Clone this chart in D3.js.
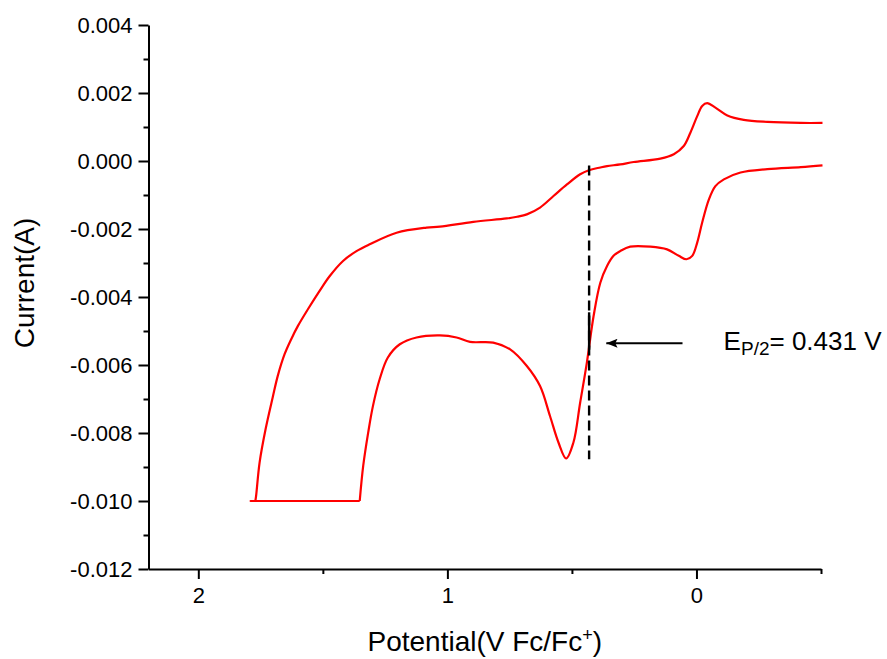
<!DOCTYPE html>
<html>
<head>
<meta charset="utf-8">
<script src="https://cdn.jsdelivr.net/npm/d3@7"></script>
<style>
  body { margin: 0; background: #fff; }
  svg text { font-family: "Liberation Sans", Arial, sans-serif; fill: #000; }
</style>
</head>
<body>
<svg id="chart"></svg>
<script>
// Cyclic voltammogram, potential in V vs Fc/Fc+, current in mA (converted to A below)
// forward scan: from -0.5 V out to the anodic limit (upper branch)
const forwardScan = [
  [-0.506, 1.12], [-0.419, 1.12], [-0.285, 1.15], [-0.190, 1.21], [-0.124, 1.34],
  [-0.076, 1.57], [-0.043, 1.70], [-0.023, 1.62], [-0.003, 1.32], [0.024, 0.84],
  [0.051, 0.44], [0.091, 0.20], [0.145, 0.07], [0.252, -0.03], [0.306, -0.10],
  [0.359, -0.15], [0.386, -0.19], [0.432, -0.27], [0.467, -0.39], [0.520, -0.69],
  [0.574, -1.03], [0.628, -1.37], [0.681, -1.57], [0.720, -1.64], [0.762, -1.69],
  [0.896, -1.79], [1.030, -1.93], [1.084, -1.96], [1.204, -2.11], [1.312, -2.45],
  [1.365, -2.65], [1.419, -2.94], [1.473, -3.39], [1.513, -3.82], [1.560, -4.36],
  [1.600, -4.85], [1.627, -5.24], [1.654, -5.69], [1.681, -6.32], [1.701, -6.94],
  [1.730, -7.89], [1.754, -8.87], [1.768, -9.85], [1.771, -10.0]
];
// current limit of the potentiostat (flat part at -10 mA)
const clippedScan = [[1.771, -10.0], [1.790, -10.0], [1.352, -10.0]];
// reverse scan back to -0.5 V (lower branch)
const reverseScan = [
  [1.352, -10.0], [1.338, -8.97], [1.318, -7.99], [1.299, -7.21], [1.272, -6.42],
  [1.239, -5.78], [1.191, -5.39], [1.124, -5.19], [1.030, -5.13], [0.963, -5.19],
  [0.909, -5.32], [0.816, -5.34], [0.748, -5.54], [0.681, -6.03], [0.628, -6.62],
  [0.588, -7.50], [0.554, -8.28], [0.523, -8.75], [0.494, -8.28], [0.467, -7.11],
  [0.440, -5.93], [0.413, -4.56], [0.386, -3.58], [0.359, -3.09], [0.333, -2.79],
  [0.306, -2.65], [0.266, -2.52], [0.185, -2.52], [0.118, -2.60], [0.071, -2.79],
  [0.040, -2.89], [0.017, -2.79], [-0.003, -2.40], [-0.023, -1.81], [-0.050, -1.13],
  [-0.076, -0.74], [-0.110, -0.54], [-0.177, -0.34], [-0.285, -0.24], [-0.419, -0.18],
  [-0.506, -0.13]
];

const xTicks = [2, 1, 0];
const xMinorTicks = [1.5, 0.5, -0.5];
const yTicks = [-0.012, -0.010, -0.008, -0.006, -0.004, -0.002, 0.000, 0.002, 0.004];
const yMinorTicks = [-0.011, -0.009, -0.007, -0.005, -0.003, -0.001, 0.001, 0.003];

// E p/2 marker: dashed line span (A), arrow (V, A), label position (V)
const ePHalf = 0.431;
const markerSpan = [-0.00013, -0.00877];
const markerSolid = [-0.00445, -0.00555];
const arrowFrom = [0.056, -0.00536];
const arrowTo = [0.362, -0.00536];
const labelAt = [-0.109, -0.00556];

const width = 887, height = 659;
const margin = { top: 25, right: 66, bottom: 90, left: 148.5 };

const svg = d3.select("#chart").attr("width", width).attr("height", height);

const x = d3.scaleLinear().domain([2.2, -0.5]).range([margin.left, width - margin.right]);
const y = d3.scaleLinear().domain([-0.012, 0.004]).range([height - margin.bottom, margin.top]);

const toA = d => [d[0], d[1] / 1000];

// axes
const yAxis = svg.append("g")
  .attr("transform", `translate(${margin.left},0)`)
  .call(d3.axisLeft(y).tickValues(yTicks).tickSize(10).tickSizeOuter(0).tickPadding(6)
    .tickFormat(d => Math.abs(d) < 1e-9 ? "0.000" : d.toFixed(3)));

svg.append("g")
  .attr("transform", `translate(${margin.left},0)`)
  .call(d3.axisLeft(y).tickValues(yMinorTicks).tickSize(5).tickSizeOuter(0).tickFormat(""))
  .select(".domain").remove();

svg.append("g")
  .attr("transform", `translate(0,${height - margin.bottom})`)
  .call(d3.axisBottom(x).tickValues(xTicks).tickSize(10).tickSizeOuter(0).tickPadding(8)
    .tickFormat(d3.format("d")));

svg.append("g")
  .attr("transform", `translate(0,${height - margin.bottom})`)
  .call(d3.axisBottom(x).tickValues(xMinorTicks).tickSize(5).tickSizeOuter(0).tickFormat(""))
  .select(".domain").remove();

svg.selectAll(".domain, .tick line").attr("stroke", "#000").attr("stroke-width", 2);
svg.selectAll(".tick text").style("font-size", "22px").attr("fill", "#000");
yAxis.selectAll(".tick text").attr("dy", "0.36em");

// axis titles
svg.append("text")
  .attr("x", (margin.left + width - margin.right) / 2)
  .attr("y", 651)
  .attr("text-anchor", "middle")
  .style("font-size", "28px")
  .html('Potential(V Fc/Fc<tspan dy="-10" font-size="18px">+</tspan><tspan dy="10">)</tspan>');

svg.append("text")
  .attr("transform", "translate(34,283) rotate(-90)")
  .attr("text-anchor", "middle")
  .style("font-size", "28px")
  .text("Current(A)");

// curve
const line = d3.line()
  .x(d => x(d[0]))
  .y(d => y(d[1]));

const curveG = svg.append("g")
  .attr("fill", "none")
  .attr("stroke", "#ff0000")
  .attr("stroke-width", 2.2)
  .attr("stroke-linejoin", "round");

curveG.append("path").attr("d", line.curve(d3.curveCatmullRom.alpha(0.5))(forwardScan.map(toA)));
curveG.append("path").attr("d", line.curve(d3.curveLinear)(clippedScan.map(toA)));
curveG.append("path").attr("d", line.curve(d3.curveCatmullRom.alpha(0.5))(reverseScan.map(toA)));

// E p/2 annotation
svg.append("line")
  .attr("x1", x(ePHalf)).attr("x2", x(ePHalf))
  .attr("y1", y(markerSpan[0])).attr("y2", y(markerSpan[1]))
  .attr("stroke", "#000").attr("stroke-width", 2.4)
  .attr("stroke-dasharray", "10,5");

svg.append("line")
  .attr("x1", x(ePHalf)).attr("x2", x(ePHalf))
  .attr("y1", y(markerSolid[0])).attr("y2", y(markerSolid[1]))
  .attr("stroke", "#000").attr("stroke-width", 2.4);

svg.append("defs").append("marker")
  .attr("id", "arrowhead")
  .attr("viewBox", "0 0 10 8")
  .attr("refX", 10).attr("refY", 4)
  .attr("markerWidth", 8).attr("markerHeight", 4.5)
  .attr("markerUnits", "strokeWidth")
  .attr("orient", "auto")
  .append("path")
  .attr("d", "M0,0L10,4L0,8L2,4Z")
  .attr("fill", "#000");

svg.append("line")
  .attr("x1", x(arrowFrom[0])).attr("y1", y(arrowFrom[1]))
  .attr("x2", x(arrowTo[0])).attr("y2", y(arrowTo[1]))
  .attr("stroke", "#000").attr("stroke-width", 2)
  .attr("marker-end", "url(#arrowhead)");

svg.append("text")
  .attr("x", x(labelAt[0]))
  .attr("y", y(labelAt[1]))
  .style("font-size", "26px")
  .html('E<tspan dy="5" font-size="19px">P/2</tspan><tspan dy="-5">= ' + ePHalf.toFixed(3) + ' V</tspan>');
</script>
</body>
</html>
